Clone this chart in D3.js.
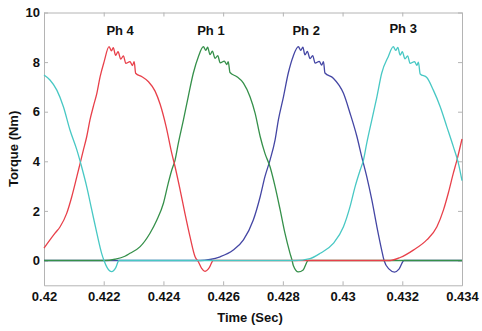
<!DOCTYPE html>
<html>
<head>
<meta charset="utf-8">
<script src="https://cdn.jsdelivr.net/npm/d3@7"></script>
<style>
body{margin:0;background:#fff}
text{font-family:"Liberation Sans",Arial,sans-serif;font-weight:bold}
</style>
</head>
<body>
<div class="chart"></div>
<script>
const w = 482
const h = 331

// torque per phase, [time (s), torque (Nm)]
const ph4 = [[0.42000,0.50],[0.42020,0.83],[0.42037,1.10],[0.42054,1.36],[0.42076,1.90],[0.42093,2.57],[0.42110,3.38],[0.42121,3.92],[0.42132,4.46],[0.42143,4.99],[0.42154,5.67],[0.42165,6.20],[0.42177,6.74],[0.42188,7.41],[0.42201,8.00],[0.42218,8.62],
  [0.42226,8.45],[0.42232,8.58],[0.42240,8.27],[0.42248,8.42],[0.42257,8.12],[0.42266,8.25],[0.42274,7.95],[0.42288,8.02],[0.42296,7.86],[0.42302,8.02],[0.42307,7.55],
  [0.42328,7.41],[0.42350,7.21],[0.42372,6.83],[0.42389,6.30],[0.42409,5.40],[0.42428,4.32],[0.42439,3.78],[0.42456,2.84],[0.42472,1.90],[0.42489,0.96],[0.42506,0.15],[0.42517,-0.05],[0.42528,-0.32],[0.42539,-0.44],[0.42553,-0.30],[0.42567,0],
  [0.43159,0],[0.43193,0.12],[0.43237,0.42],[0.43282,0.83],[0.43316,1.36],[0.43338,2.04],[0.43354,2.71],[0.43371,3.52],[0.43383,4.05],[0.43400,4.90]]

const ph1 = [[0.42000,0],[0.42204,0],[0.42238,0.05],[0.42271,0.17],[0.42288,0.29],[0.42322,0.56],[0.42355,1.10],[0.42378,1.63],[0.42400,2.31],[0.42416,3.11],[0.42428,3.65],[0.42439,4.05],[0.42450,4.73],[0.42467,5.67],[0.42483,6.60],[0.42500,7.55],[0.42517,8.22],[0.42534,8.62],
  [0.42542,8.47],[0.42548,8.60],[0.42556,8.30],[0.42564,8.44],[0.42573,8.15],[0.42582,8.26],[0.42590,7.97],[0.42604,8.04],[0.42612,7.90],[0.42617,8.02],[0.42623,7.58],
  [0.42646,7.41],[0.42668,7.15],[0.42690,6.60],[0.42707,5.94],[0.42724,5.00],[0.42740,4.32],[0.42757,3.78],[0.42774,2.98],[0.42791,2.04],[0.42807,1.10],[0.42824,0.29],[0.42831,0],[0.42835,-0.20],[0.42852,-0.46],[0.42868,-0.38],[0.42885,0],
  [0.43400,0]]

const ph2 = [[0.42000,0],[0.42523,0],[0.42556,0.04],[0.42590,0.15],[0.42634,0.42],[0.42668,0.83],[0.42701,1.63],[0.42724,2.57],[0.42740,3.38],[0.42757,4.05],[0.42774,4.86],[0.42785,5.67],[0.42802,6.60],[0.42818,7.55],[0.42835,8.25],[0.42852,8.62],
  [0.42860,8.47],[0.42867,8.60],[0.42874,8.29],[0.42882,8.43],[0.42891,8.14],[0.42900,8.26],[0.42908,7.96],[0.42922,8.03],[0.42930,7.88],[0.42936,8.02],[0.42941,7.56],
  [0.42969,7.35],[0.43003,6.74],[0.43025,5.94],[0.43048,5.00],[0.43064,4.19],[0.43081,3.38],[0.43098,2.44],[0.43115,1.36],[0.43131,0.42],[0.43139,0],[0.43156,-0.35],[0.43174,-0.47],[0.43189,-0.35],[0.43206,0],
  [0.43400,0]]

const ph3 = [[0.42000,7.48],[0.42020,7.28],[0.42043,6.87],[0.42065,6.20],[0.42087,5.26],[0.42110,4.46],[0.42126,3.78],[0.42143,2.98],[0.42160,2.04],[0.42177,1.10],[0.42193,0.29],[0.42201,0],[0.42211,-0.28],[0.42227,-0.45],[0.42240,-0.30],[0.42251,0],
  [0.42841,0],[0.42891,0.08],[0.42925,0.29],[0.42969,0.69],[0.43003,1.36],[0.43025,2.17],[0.43042,2.98],[0.43059,3.65],[0.43070,4.05],[0.43081,4.73],[0.43098,5.67],[0.43115,6.60],[0.43131,7.55],[0.43153,8.22],[0.43170,8.62],
  [0.43178,8.47],[0.43185,8.59],[0.43193,8.28],[0.43200,8.42],[0.43209,8.13],[0.43218,8.25],[0.43226,7.95],[0.43241,8.02],[0.43249,7.87],[0.43254,8.00],[0.43260,7.52],
  [0.43282,7.38],[0.43304,6.87],[0.43327,6.20],[0.43349,5.40],[0.43371,4.59],[0.43388,3.92],[0.43400,3.22]]

const phases = ["Ph 2","Ph 1","Ph 4","Ph 3"]          // drawing order
const phaseData = [ph2, ph1, ph4, ph3]
const phaseColors = ["#4446a4","#35904a","#e8404a","#48c8c4"]

const labels = ["Ph 4","Ph 1","Ph 2","Ph 3"]
const labelT = [0.42255,0.42559,0.42878,0.43203]
const labelV = [9.09,9.09,9.09,9.17]

const xTicks = [0.42,0.422,0.424,0.426,0.428,0.43,0.432,0.434]
const xTickLabels = ["0.42","0.422","0.424","0.426","0.428","0.43","0.432","0.434"]
const yTicks = [0,2,4,6,8,10]

const margin = {top: 12.5, right: 20, bottom: 45.7, left: 44}
const width = w - margin.left - margin.right
const height = h - margin.top - margin.bottom

const svg = d3.select(".chart").append("svg")
    .attr("width", w)
    .attr("height", h)
    .style("background","#fff")
  .append("g")
    .attr("transform", `translate(${margin.left},${margin.top})`)

const xScale = d3.scaleLinear().domain([0.42, 0.434]).range([0, width])
const yScale = d3.scaleLinear().domain([-1, 10]).range([height, 0])

const axisColor = "#b4b4b4"

const xAxis = d3.axisBottom(xScale)
    .tickValues(xTicks)
    .tickFormat((d,i) => xTickLabels[i])
    .tickSizeInner(-4).tickSizeOuter(0).tickPadding(6)

const yAxis = d3.axisLeft(yScale)
    .tickValues(yTicks)
    .tickSizeInner(-4).tickSizeOuter(0).tickPadding(4)

const styleAxis = g => {
  g.select(".domain").attr("stroke", axisColor)
  g.selectAll(".tick line").attr("stroke", axisColor)
  g.selectAll(".tick text").attr("fill","#111").attr("font-size",13)
    .attr("font-family",'"Liberation Sans",Arial,sans-serif').attr("font-weight","bold")
}

svg.append("g")
    .attr("transform", `translate(0,${height})`)
    .call(xAxis).call(styleAxis)

svg.append("g")
    .call(yAxis).call(styleAxis)

svg.append("g")
    .call(d3.axisTop(xScale).tickValues(xTicks).tickFormat("").tickSizeInner(-4).tickSizeOuter(0))
    .call(styleAxis)

svg.append("g")
    .attr("transform", `translate(${width},0)`)
    .call(d3.axisRight(yScale).tickValues(yTicks).tickFormat("").tickSizeInner(-4).tickSizeOuter(0))
    .call(styleAxis)

const line = d3.line()
    .x(d => xScale(d[0]))
    .y(d => yScale(d[1]))
    .curve(d3.curveMonotoneX)

svg.selectAll(".phase")
    .data(phaseData)
    .enter()
    .append("path")
    .attr("class","phase")
    .attr("d", line)
    .attr("fill","none")
    .attr("stroke", (d,i) => phaseColors[i])
    .attr("stroke-width", 1.3)
    .attr("stroke-linejoin","round")

svg.selectAll(".ph-label")
    .data(labels)
    .enter()
    .append("text")
    .attr("class","ph-label")
    .attr("x", (d,i) => xScale(labelT[i]))
    .attr("y", (d,i) => yScale(labelV[i]))
    .attr("text-anchor","middle")
    .attr("font-size", 13)
    .attr("fill","#111")
    .text(d => d)

svg.append("text")
    .attr("x", width/2 - 3)
    .attr("y", height + 37)
    .attr("text-anchor","middle")
    .attr("font-size", 13)
    .attr("fill","#111")
    .text("Time (Sec)")

svg.append("text")
    .attr("transform", `translate(${-26},${height/2}) rotate(-90)`)
    .attr("text-anchor","middle")
    .attr("font-size", 13)
    .attr("fill","#111")
    .text("Torque (Nm)")
</script>
</body>
</html>
